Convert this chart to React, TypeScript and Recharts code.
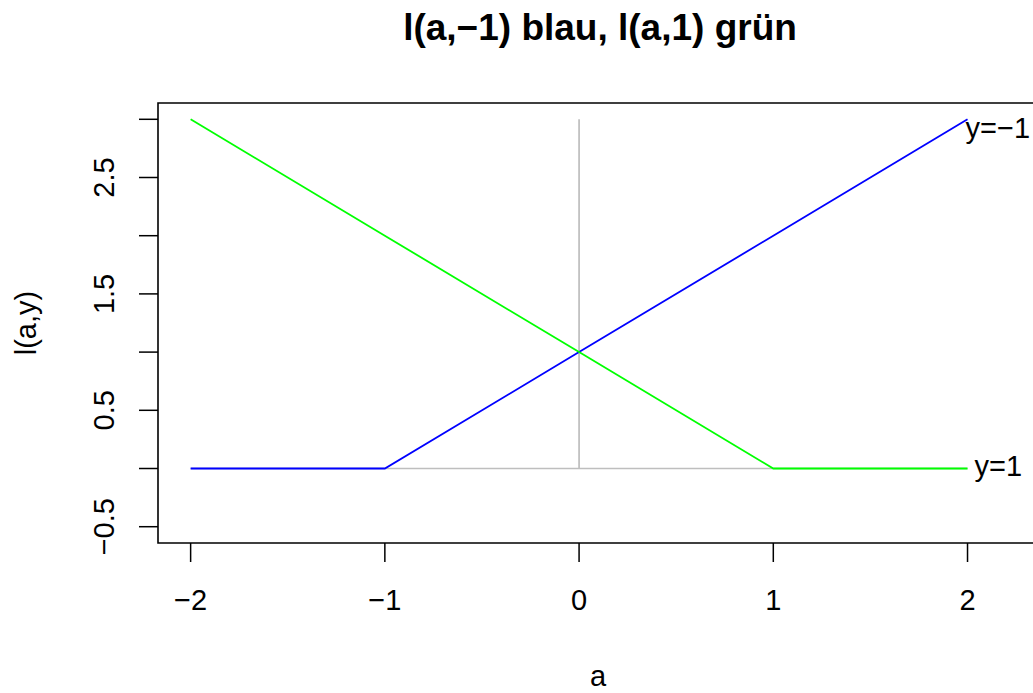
import React from "react";
import {
  LineChart,
  Line,
  XAxis,
  YAxis,
  ReferenceLine,
  ReferenceArea,
  ReferenceDot,
} from "recharts";

// l(a, y) for the two states
const aValues = [-2, -1, 0, 1, 2];
const blueValues = [0, 0, 1, 2, 3]; // l(a,-1)
const greenValues = [3, 2, 1, 0, 0]; // l(a,1)

const yTicks = [-0.5, 0, 0.5, 1, 1.5, 2, 2.5, 3];
const yTickLabels = ["−0.5", "", "0.5", "", "1.5", "", "2.5", ""];
const xTickLabels = ["−2", "−1", "0", "1", "2"];

// end-of-line annotations
const notes = [
  { a: 2, l: 3, text: "y=−1", dx: -2, dy: 19 },
  { a: 2, l: 0, text: "y=1", dx: 7, dy: 7 },
];

const X_DOMAIN: [number, number] = [-2.168, 2.368];
const Y_DOMAIN: [number, number] = [-0.64, 3.14];

const FONT = '"Liberation Sans", Arial, Helvetica, sans-serif';
const FS = 29;

const data = aValues.map((a, i) => ({
  a,
  blue: blueValues[i],
  green: greenValues[i],
}));

const XTick = ({ x, y, payload }: any) => {
  const i = aValues.indexOf(payload.value);
  return (
    <g>
      <line x1={x} y1={y} x2={x} y2={y + 19} stroke="#000" strokeWidth={1.5} />
      <text x={x} y={y + 67} textAnchor="middle" fontSize={FS} fontFamily={FONT} fill="#000">
        {xTickLabels[i]}
      </text>
    </g>
  );
};

const YTick = ({ x, y, payload }: any) => {
  const i = yTicks.indexOf(payload.value);
  const lx = x - 44;
  return (
    <g>
      <line x1={x - 19} y1={y} x2={x} y2={y} stroke="#000" strokeWidth={1.5} />
      <text
        x={lx}
        y={y}
        transform={`rotate(-90 ${lx} ${y})`}
        textAnchor="middle"
        fontSize={FS}
        fontFamily={FONT}
        fill="#000"
      >
        {yTickLabels[i]}
      </text>
    </g>
  );
};

const App = () => {
  return (
    <div
      style={{
        position: "absolute",
        left: 0,
        top: 0,
        width: 1033,
        height: 693,
        overflow: "hidden",
        background: "#fff",
      }}
    >
      <LineChart
        width={1039}
        height={693}
        data={data}
        margin={{ top: 103, right: 0, bottom: 0, left: 0 }}
      >
        <XAxis
          dataKey="a"
          type="number"
          domain={X_DOMAIN}
          allowDataOverflow
          ticks={aValues}
          interval={0}
          height={150}
          axisLine={false}
          tickLine={false}
          tickSize={0}
          tickMargin={0}
          tick={<XTick />}
        />
        <YAxis
          type="number"
          domain={Y_DOMAIN}
          allowDataOverflow
          ticks={yTicks}
          interval={0}
          width={158}
          axisLine={false}
          tickLine={false}
          tickSize={0}
          tickMargin={0}
          tick={<YTick />}
        />
        <ReferenceArea
          x1={X_DOMAIN[0]}
          x2={X_DOMAIN[1]}
          y1={Y_DOMAIN[0]}
          y2={Y_DOMAIN[1]}
          fill="none"
          fillOpacity={0}
          stroke="#000"
          strokeWidth={1.6}
        />
        <ReferenceLine
          segment={[
            { x: -2, y: 0 },
            { x: 2, y: 0 },
          ]}
          stroke="#bebebe"
          strokeWidth={1.7}
        />
        <ReferenceLine
          segment={[
            { x: 0, y: 0 },
            { x: 0, y: 3 },
          ]}
          stroke="#bebebe"
          strokeWidth={1.7}
        />
        <Line
          type="linear"
          dataKey="blue"
          stroke="#0000ff"
          strokeWidth={1.8}
          dot={false}
          isAnimationActive={false}
        />
        <Line
          type="linear"
          dataKey="green"
          stroke="#00ff00"
          strokeWidth={1.8}
          dot={false}
          isAnimationActive={false}
        />
        {notes.map((n) => (
          <ReferenceDot
            key={n.text}
            x={n.a}
            y={n.l}
            r={0}
            shape={(p: any) => (
              <text
                x={p.cx + n.dx}
                y={p.cy + n.dy}
                fontSize={FS}
                fontFamily={FONT}
                fill="#000"
              >
                {n.text}
              </text>
            )}
          />
        ))}
      </LineChart>
      <svg
        width={1033}
        height={693}
        style={{ position: "absolute", left: 0, top: 0, pointerEvents: "none" }}
      >
        <text x={600} y={40} textAnchor="middle" fontSize={37} fontWeight="bold" fontFamily={FONT} fill="#000">
          l(a,−1) blau, l(a,1) grün
        </text>
        <text x={598} y={686} textAnchor="middle" fontSize={FS} fontFamily={FONT} fill="#000">
          a
        </text>
        <text
          x={36}
          y={323}
          transform="rotate(-90 36 323)"
          textAnchor="middle"
          fontSize={FS}
          fontFamily={FONT}
          fill="#000"
        >
          l(a,y)
        </text>
      </svg>
    </div>
  );
};

export default App;
